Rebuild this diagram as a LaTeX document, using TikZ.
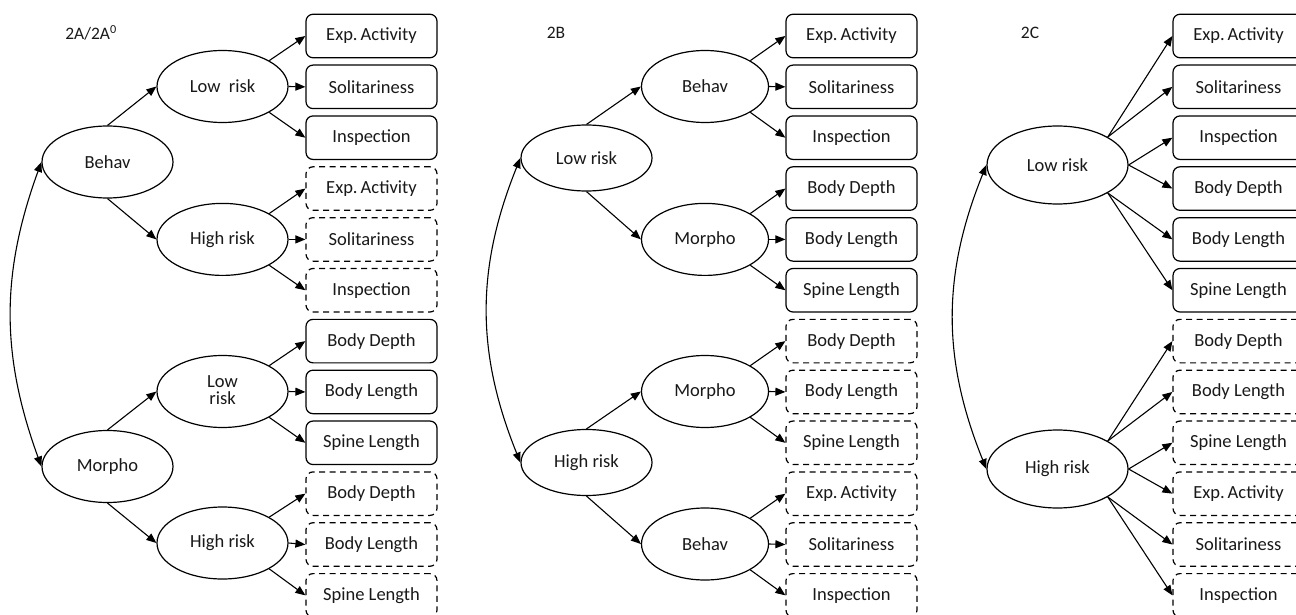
\documentclass[tikz,border=0pt]{standalone}
\usepackage{fontspec}
\setmainfont{Carlito}
\usetikzlibrary{shapes.geometric,arrows.meta}
\tikzset{
  every node/.style={font=\fontsize{18.5}{20}\selectfont, text=black!90},
  obs/.style={draw, rounded corners=7pt, minimum width=131pt, minimum height=43.5pt, inner sep=0pt, line width=1.2pt},
  obsd/.style={obs, dash pattern=on 6pt off 4.5pt},
  lat/.style={draw, ellipse, minimum width=131pt, minimum height=72pt, inner sep=0pt, line width=1.2pt},
  lattop/.style={lat, minimum height=66pt},
  latc/.style={lat, minimum width=141pt, minimum height=78pt},
  arr/.style={-{Triangle[length=10pt,width=8pt]}, line width=1.1pt},
  darr/.style={{Triangle[length=10pt,width=8pt]}-{Triangle[length=10pt,width=8pt]}, line width=1.1pt},
  lbl/.style={font=\fontsize{17.5}{20}\selectfont},
}
\begin{document}
\begin{tikzpicture}[x=1pt,y=-1pt]
\clip (0,0) rectangle (1296,615);
\fill[white] (0,0) rectangle (1296,615);
% ---------------- Panel A ----------------
\node[lbl] (la) at (91,33) {2A/2A\textsuperscript{0}};
\node[obs]  (a1)  at (371.5,36)    {Exp.\,Activity};
\node[obs]  (a2)  at (371.5,86.85) {Solitariness};
\node[obs]  (a3)  at (371.5,137.7) {Inspection};
\node[obsd] (a4)  at (371.5,188.55){Exp.\,Activity};
\node[obsd] (a5)  at (371.5,239.4) {Solitariness};
\node[obsd] (a6)  at (371.5,290.25){Inspection};
\node[obs]  (a7)  at (371.5,341.1) {Body Depth};
\node[obs]  (a8)  at (371.5,391.95){Body Length};
\node[obs]  (a9)  at (371.5,442.8) {Spine Length};
\node[obsd] (a10) at (371.5,493.65){Body Depth};
\node[obsd] (a11) at (371.5,544.5) {Body Length};
\node[obsd] (a12) at (371.5,595.35){Spine Length};
\node[lat] (aLB) at (222.5,86.5)  {Low\ \ risk};
\node[lat] (aHB) at (222.5,239.4) {High risk};
\node[lat] (aLM) at (222.5,391.5) {\begin{tabular}{@{}c@{}}Low\\[-3pt]risk\end{tabular}};
\node[lat] (aHM) at (222.5,543)   {High risk};
\node[lat] (aB)  at (107.5,162)   {Behav};
\node[lat] (aM)  at (107.5,466.5) {Morpho};
\draw[arr] (aB.north) -- (aLB.west);
\draw[arr] (aB.south) -- (aHB.west);
\draw[arr] (aM.north) -- (aLM.west);
\draw[arr] (aM.south) -- (aHM.west);
\draw[arr] (aLB.north east) -- (a1.west);
\draw[arr] (aLB.east) -- (a2.west);
\draw[arr] (aLB.south east) -- (a3.west);
\draw[arr] (aHB.north east) -- (a4.west);
\draw[arr] (aHB.east) -- (a5.west);
\draw[arr] (aHB.south east) -- (a6.west);
\draw[arr] (aLM.north east) -- (a7.west);
\draw[arr] (aLM.east) -- (a8.west);
\draw[arr] (aLM.south east) -- (a9.west);
\draw[arr] (aHM.north east) -- (a10.west);
\draw[arr] (aHM.east) -- (a11.west);
\draw[arr] (aHM.south east) -- (a12.west);
\draw[darr] (aB.west) to[bend right=20] (aM.west);
% ---------------- Panel B ----------------
\node[lbl] (lb) at (556,33) {2B};
\node[obs]  (b1)  at (851.5,36)    {Exp.\,Activity};
\node[obs]  (b2)  at (851.5,86.85) {Solitariness};
\node[obs]  (b3)  at (851.5,137.7) {Inspection};
\node[obs]  (b4)  at (851.5,188.55){Body Depth};
\node[obs]  (b5)  at (851.5,239.4) {Body Length};
\node[obs]  (b6)  at (851.5,290.25){Spine Length};
\node[obsd] (b7)  at (851.5,341.1) {Body Depth};
\node[obsd] (b8)  at (851.5,391.95){Body Length};
\node[obsd] (b9)  at (851.5,442.8) {Spine Length};
\node[obsd] (b10) at (851.5,493.65){Exp.\,Activity};
\node[obsd] (b11) at (851.5,544.5) {Solitariness};
\node[obsd] (b12) at (851.5,595.35){Inspection};
\node[lat, minimum width=127pt] (bLB) at (705,86.5)  {Behav};
\node[lat, minimum width=127pt] (bLM) at (705,239.4) {Morpho};
\node[lat, minimum width=127pt] (bHM) at (705,391.5) {Morpho};
\node[lat, minimum width=127pt] (bHB) at (705,544)   {Behav};
\node[lattop] (bL) at (586.5,158)   {Low risk};
\node[lattop] (bH) at (586.5,462.5) {High risk};
\draw[arr] (bL.north) -- (bLB.west);
\draw[arr] (bL.south) -- (bLM.west);
\draw[arr] (bH.north) -- (bHM.west);
\draw[arr] (bH.south) -- (bHB.west);
\draw[arr] (bLB.north east) -- (b1.west);
\draw[arr] (bLB.east) -- (b2.west);
\draw[arr] (bLB.south east) -- (b3.west);
\draw[arr] (bLM.north east) -- (b4.west);
\draw[arr] (bLM.east) -- (b5.west);
\draw[arr] (bLM.south east) -- (b6.west);
\draw[arr] (bHM.north east) -- (b7.west);
\draw[arr] (bHM.east) -- (b8.west);
\draw[arr] (bHM.south east) -- (b9.west);
\draw[arr] (bHB.north east) -- (b10.west);
\draw[arr] (bHB.east) -- (b11.west);
\draw[arr] (bHB.south east) -- (b12.west);
\draw[darr] (bL.west) to[bend right=22] (bH.west);
% ---------------- Panel C ----------------
\node[lbl] (lc) at (1030,33) {2C};
\node[obs]  (c1)  at (1238.5,36)    {Exp.\,Activity};
\node[obs]  (c2)  at (1238.5,86.85) {Solitariness};
\node[obs]  (c3)  at (1238.5,137.7) {Inspection};
\node[obs]  (c4)  at (1238.5,188.55){Body Depth};
\node[obs]  (c5)  at (1238.5,239.4) {Body Length};
\node[obs]  (c6)  at (1238.5,290.25){Spine Length};
\node[obsd] (c7)  at (1238.5,341.1) {Body Depth};
\node[obsd] (c8)  at (1238.5,391.95){Body Length};
\node[obsd] (c9)  at (1238.5,442.8) {Spine Length};
\node[obsd] (c10) at (1238.5,493.65){Exp.\,Activity};
\node[obsd] (c11) at (1238.5,544.5) {Solitariness};
\node[obsd] (c12) at (1238.5,595.35){Inspection};
\node[latc] (cL) at (1057.5,165) {Low risk};
\node[latc] (cH) at (1057.5,469) {High risk};
\draw[arr] (cL.north east) -- (c1.west);
\draw[arr] (cL.north east) -- (c2.west);
\draw[arr] (cL.east) -- (c3.west);
\draw[arr] (cL.east) -- (c4.west);
\draw[arr] (cL.south east) -- (c5.west);
\draw[arr] (cL.south east) -- (c6.west);
\draw[arr] (cH.north east) -- (c7.west);
\draw[arr] (cH.north east) -- (c8.west);
\draw[arr] (cH.east) -- (c9.west);
\draw[arr] (cH.east) -- (c10.west);
\draw[arr] (cH.south east) -- (c11.west);
\draw[arr] (cH.south east) -- (c12.west);
\draw[darr] (cL.west) to[bend right=22] (cH.west);
\end{tikzpicture}
\end{document}
